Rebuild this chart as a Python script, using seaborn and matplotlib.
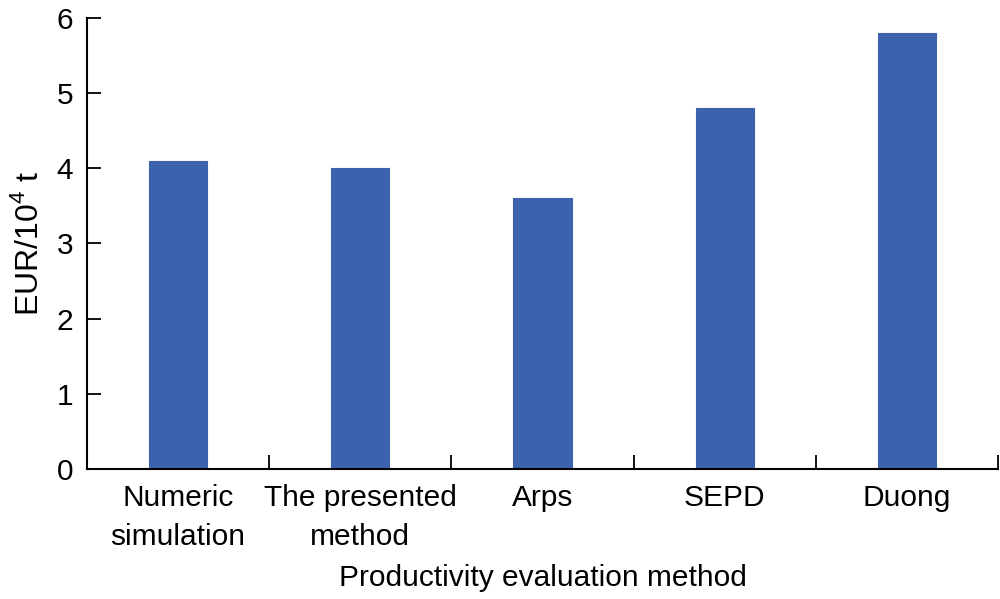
import matplotlib
matplotlib.use("Agg")
import matplotlib.pyplot as plt
import seaborn as sns
import pandas as pd
import numpy as np

# data
methods = ["Numeric\nsimulation", "The presented\nmethod", "Arps", "SEPD", "Duong"]
eur = [4.1, 4.0, 3.6, 4.8, 5.8]
y_ticks = [0, 1, 2, 3, 4, 5, 6]

df = pd.DataFrame({"Method": methods, "EUR": eur})

sns.set_theme(style="ticks")
plt.rcParams['font.family'] = ['Liberation Sans', 'DejaVu Sans']
plt.rcParams['mathtext.fontset'] = 'custom'
plt.rcParams['mathtext.rm'] = 'Liberation Sans'
plt.rcParams['text.color'] = 'black'
plt.rcParams['axes.labelcolor'] = 'black'
plt.rcParams['xtick.color'] = 'black'
plt.rcParams['ytick.color'] = 'black'

fig = plt.figure(figsize=(10, 5.99), dpi=100)
ax = fig.add_axes([0.087, 0.217, 0.911, 0.753])

sns.barplot(data=df, x="Method", y="EUR", color="#3c62ad", width=0.32,
            saturation=1, edgecolor="#3c62ad", linewidth=0.8, ax=ax)

ax.set_xlim(-0.5, len(methods) - 0.5)
ax.set_ylim(0, 6)
ax.set_yticks(y_ticks)

# category boundaries get the tick marks, centres get the labels
ax.set_xticks(np.arange(len(methods)))
ax.set_xticklabels(methods, fontsize=21.5, linespacing=1.5)
ax.set_xticks(np.arange(len(methods)) + 0.5, minor=True)
ax.tick_params(axis="x", which="major", length=0, pad=11)
ax.tick_params(axis="x", which="minor", direction="in", length=10, width=1.3,
               color="black", bottom=True)
ax.tick_params(axis="y", which="major", direction="in", length=10, width=1.3,
               color="black", labelsize=21.5, pad=10, left=True)

for s in ["top", "right"]:
    ax.spines[s].set_visible(False)
for s in ["left", "bottom"]:
    ax.spines[s].set_color("black")
    ax.spines[s].set_linewidth(1.5)

ax.set_xlabel("Productivity evaluation method", fontsize=21.5, labelpad=9)
ax.set_ylabel("EUR/10$^{4}$ t", fontsize=23, labelpad=8)

fig.savefig("out.png", dpi=100, facecolor="white")
